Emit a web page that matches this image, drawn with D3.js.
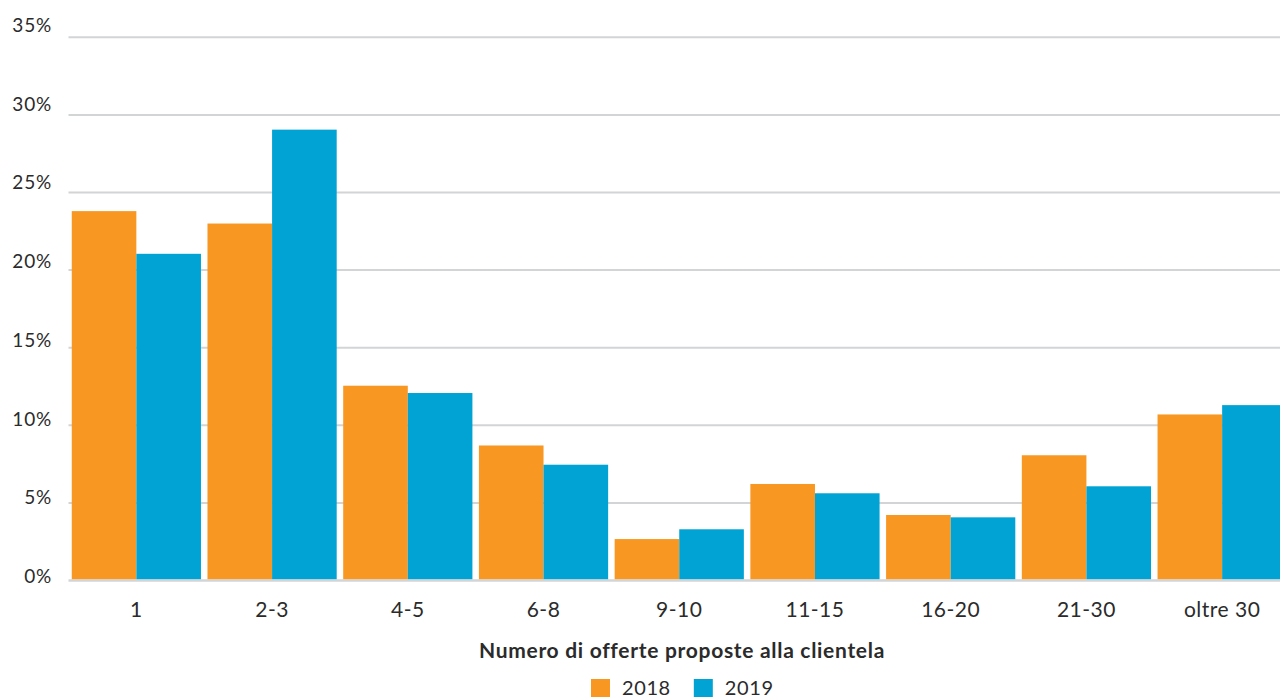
<!DOCTYPE html>
<html>
<head>
<meta charset="utf-8">
<script src="https://cdn.jsdelivr.net/npm/d3@7"></script>
<style>
  html, body { margin: 0; padding: 0; background: #fff; }
  svg { display: block; font-family: Lato, "Open Sans", sans-serif; }
</style>
</head>
<body>
<svg id="chart" width="1280" height="697"></svg>
<script>
const categories = ["1", "2-3", "4-5", "6-8", "9-10", "11-15", "16-20", "21-30", "oltre 30"];
const series = ["2018", "2019"];
const values2018 = [23.8, 23.0, 12.55, 8.7, 2.67, 6.22, 4.22, 8.07, 10.7];
const values2019 = [21.05, 29.05, 12.08, 7.46, 3.3, 5.62, 4.07, 6.07, 11.3];
const yTicks = [0, 5, 10, 15, 20, 25, 30, 35];
const colors = ["#F89823", "#00A3D4"];
const xTitle = "Numero di offerte proposte alla clientela";

const svg = d3.select("#chart");
const textColor = "#2b2b2b";

const y = d3.scaleLinear().domain([0, 35]).range([580.5, 37.3]);
const yLabel = d3.scaleLinear().domain([0, 35]).range([583, 32]);
const x = d3.scaleBand().domain(categories).range([68.5, 1290])
  .paddingInner(0.048).paddingOuter(0.024);
const xs = d3.scaleBand().domain(series).range([0, x.bandwidth()]);

// gridlines
svg.append("g").selectAll("line").data(yTicks).join("line")
  .attr("x1", 68.5).attr("x2", 1280)
  .attr("y1", d => y(d)).attr("y2", d => y(d))
  .attr("stroke", "#d3d4d6")
  .attr("stroke-width", d => d === 0 ? 2.6 : 2);

// y labels
svg.append("g").selectAll("text").data(yTicks).join("text")
  .attr("x", 52).attr("y", d => yLabel(d))
  .attr("text-anchor", "end")
  .attr("fill", textColor)
  .attr("font-size", 19)
  .attr("letter-spacing", 0.8)
  .text(d => d + "%");

// bars
const data = categories.map((c, i) => ({ cat: c, vals: [values2018[i], values2019[i]] }));
const groups = svg.append("g").selectAll("g").data(data).join("g")
  .attr("transform", d => `translate(${x(d.cat)},0)`);
groups.selectAll("rect").data(d => d.vals.map((v, j) => ({ s: series[j], v, j })))
  .join("rect")
  .attr("x", d => xs(d.s))
  .attr("width", xs.bandwidth())
  .attr("y", d => y(d.v))
  .attr("height", d => y(0) - 1.3 - y(d.v))
  .attr("fill", d => colors[d.j]);

// x labels
svg.append("g").selectAll("text").data(categories).join("text")
  .attr("x", d => x(d) + x.bandwidth() / 2)
  .attr("y", 616.5)
  .attr("text-anchor", "middle")
  .attr("fill", textColor)
  .attr("font-size", 21)
  .attr("letter-spacing", 0.5)
  .text(d => d);

// x title
svg.append("text")
  .attr("x", 682).attr("y", 658)
  .attr("text-anchor", "middle")
  .attr("fill", textColor)
  .attr("font-size", 21)
  .attr("font-weight", 700)
  .attr("letter-spacing", 0.7)
  .text(xTitle);

// legend
const leg = svg.append("g");
const items = leg.selectAll("g").data(series).join("g");
items.append("rect").attr("width", 19).attr("height", 18).attr("y", 679)
  .attr("fill", (d, i) => colors[i]);
items.append("text").attr("x", 31).attr("y", 694.5)
  .attr("fill", textColor).attr("font-size", 20)
  .attr("letter-spacing", 0.6).text(d => d);
let cx = 591;
items.each(function () {
  d3.select(this).attr("transform", `translate(${cx},0)`);
  const w = this.querySelector("text").getComputedTextLength();
  cx += 31 + w + 23;
});
</script>
</body>
</html>
